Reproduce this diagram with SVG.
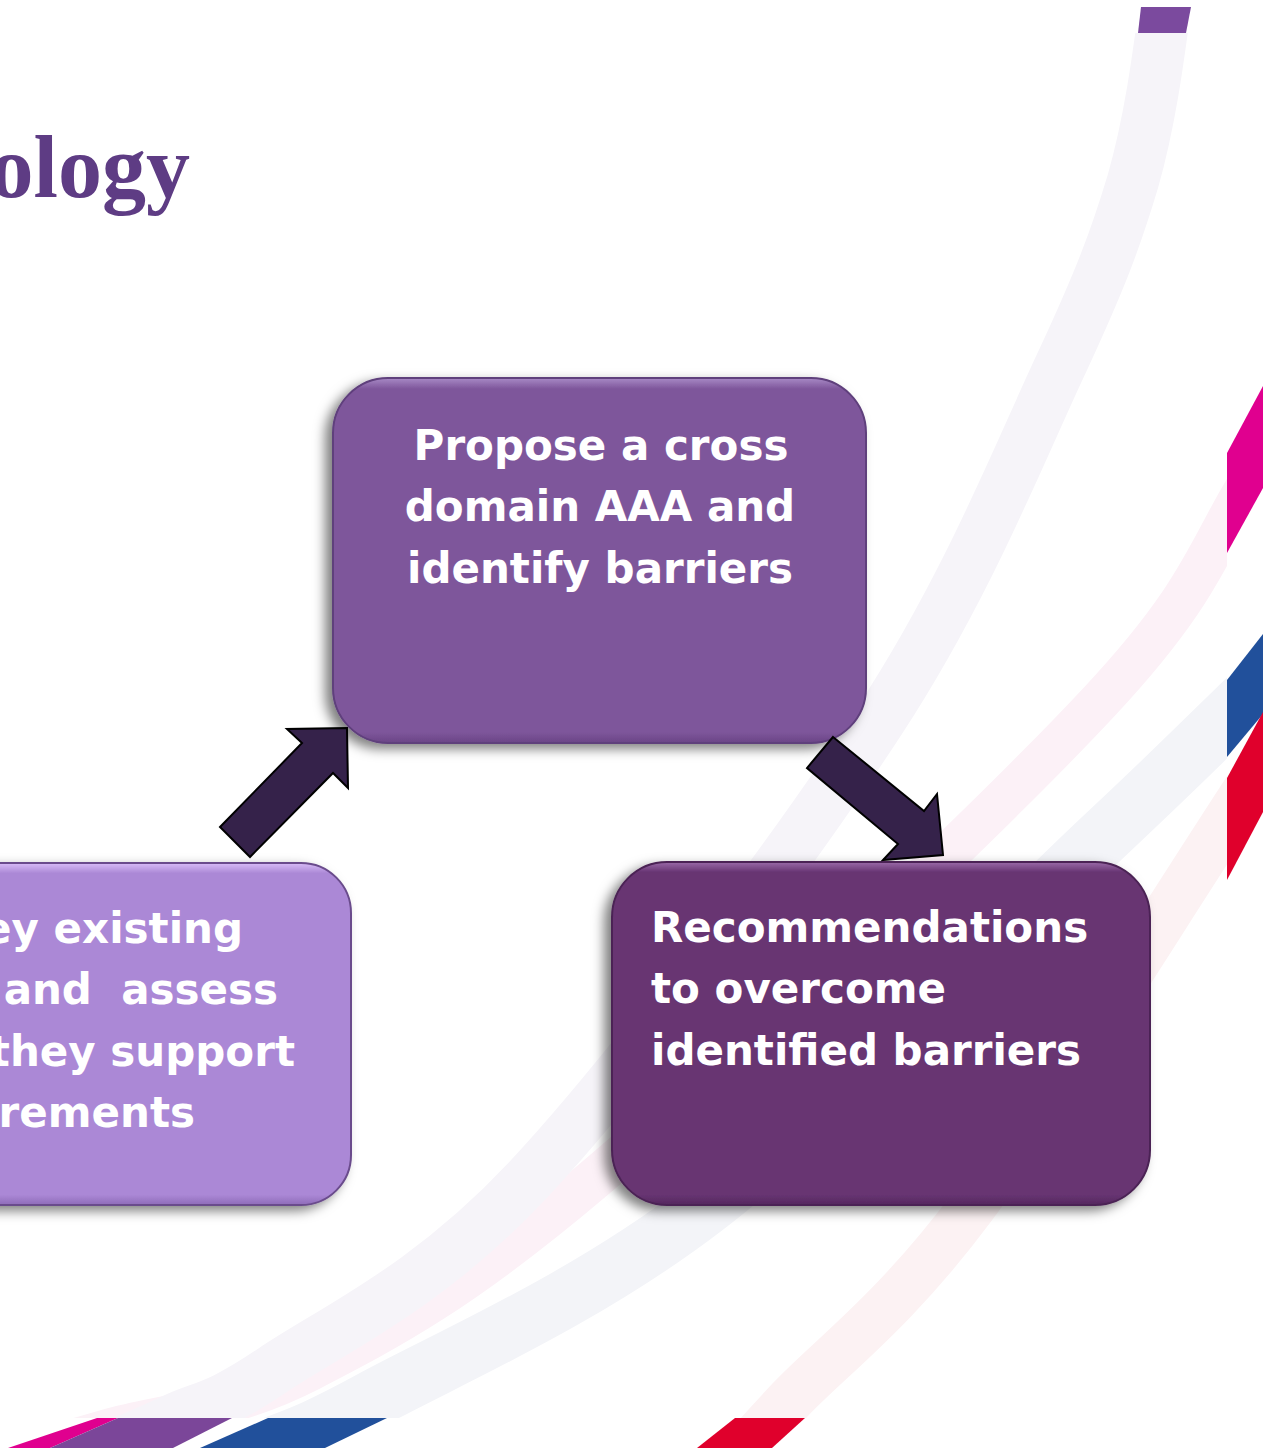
<svg xmlns="http://www.w3.org/2000/svg" width="1263" height="1448" viewBox="0 0 1263 1448">
  <defs>
    <style>
      .band { fill: none; stroke-linecap: butt; }
      .node-text { font-family: "DejaVu Sans", "Liberation Sans", sans-serif; font-weight: bold; font-size: 42px; fill: #ffffff; }
      .arrow { fill: #35224a; stroke: #000000; stroke-width: 2; stroke-linejoin: miter; }
    </style>
    <clipPath id="faintClip">
      <rect x="0" y="33" width="1227" height="1385"/>
    </clipPath>
    <filter id="shadow" x="-10%" y="-10%" width="120%" height="125%">
      <feDropShadow dx="-7" dy="5" stdDeviation="6" flood-color="#000000" flood-opacity="0.5"/>
    </filter>
    <linearGradient id="gTop" x1="0" y1="0" x2="0" y2="1">
      <stop offset="0" stop-color="#a88ac6"/>
      <stop offset="0.03" stop-color="#7e569b"/>
      <stop offset="0.97" stop-color="#7e569b"/>
      <stop offset="1" stop-color="#6a4586"/>
    </linearGradient>
    <linearGradient id="gLeft" x1="0" y1="0" x2="0" y2="1">
      <stop offset="0" stop-color="#d8bcf7"/>
      <stop offset="0.03" stop-color="#ab88d6"/>
      <stop offset="0.97" stop-color="#ab88d6"/>
      <stop offset="1" stop-color="#8e6bb8"/>
    </linearGradient>
    <linearGradient id="gRight" x1="0" y1="0" x2="0" y2="1">
      <stop offset="0" stop-color="#9a6aa8"/>
      <stop offset="0.03" stop-color="#673472"/>
      <stop offset="0.97" stop-color="#673472"/>
      <stop offset="1" stop-color="#55285f"/>
    </linearGradient>
  </defs>

  <rect x="0" y="0" width="1263" height="1448" fill="#ffffff"/>

  <!-- background swooshes -->
  <g id="background">
    <g clip-path="url(#faintClip)">
      <path class="band" stroke="#fcf1f7" stroke-width="42" d="M1263 461 C1208.7 541 1211.7 581.2 1100 701 C988.3 820.8 724.7 1068.5 593 1180 C461.3 1291.5 390.8 1328.3 310 1370 C229.2 1411.7 159.7 1415 108 1430 C56.3 1445 36 1450 0 1460"/>
      <path class="band" stroke="#f6f4f9" stroke-width="52" d="M1166 0 C1158 60 1150 121 1133 181 C1115 241 1100 280 1063 360 C1020.5 449.8 969.2 583.3 880 720 C790.8 856.7 629.2 1071.7 528 1180 C426.8 1288.3 331.8 1330.2 273 1370 C214.2 1409.8 202.2 1406 175 1419 C147.8 1432 131.7 1438.3 110 1448"/>
      <path class="band" stroke="#f3f4f8" stroke-width="58" d="M1263 683 C1208.7 735.3 1193 752.7 1100 840 C1007 927.3 826.5 1113.7 705 1207 C583.5 1300.3 446.8 1358.7 371 1400 C295.2 1441.3 290.3 1436.7 250 1455"/>
      <path class="band" stroke="#fcf2f3" stroke-width="48" d="M1263 765 C1166 912.3 1050.8 1101.2 972 1207 C893.2 1312.8 828.7 1358.7 790 1400 C751.3 1441.3 756.7 1436.7 740 1455"/>
    </g>
    <polygon points="1141,7 1191,7 1186,33 1138,33" fill="#7b4a9e"/>
    <polygon points="1227,453 1263,386 1263,488 1227,553" fill="#e0008f"/>
    <polygon points="1227,680 1263,634 1263,714 1227,757" fill="#21509b"/>
    <polygon points="1227,778 1263,712 1263,812 1227,880" fill="#e0002c"/>
    <polygon points="97,1418 118,1418 50,1448 8,1448" fill="#e0008f"/>
    <polygon points="118,1418 232,1418 173,1448 50,1448" fill="#7b4699"/>
    <polygon points="268,1418 387,1418 325,1448 200,1448" fill="#21509b"/>
    <polygon points="735,1418 805,1418 772,1448 697,1448" fill="#e0002c"/>
  </g>

  <text id="title" x="190" y="197" text-anchor="end" font-family="'Liberation Serif', 'DejaVu Serif', serif" font-weight="bold" font-size="88" fill="#5e3c84">ology</text>

  <g id="node-propose">
    <rect x="333" y="378" width="533" height="365" rx="55" ry="55" fill="url(#gTop)" stroke="#5f3f7c" stroke-width="2" filter="url(#shadow)"/>
    <text class="node-text" text-anchor="middle"><tspan x="601" y="460">Propose a cross</tspan><tspan x="600" y="521">domain AAA and</tspan><tspan x="600" y="583">identify barriers</tspan></text>
  </g>

  <g id="node-survey">
    <rect x="-200" y="863" width="551" height="342" rx="50" ry="50" fill="url(#gLeft)" stroke="#6a4c8c" stroke-width="2" filter="url(#shadow)"/>
    <text class="node-text" text-anchor="end" xml:space="preserve"><tspan x="243" y="943">ey existing</tspan><tspan x="278" y="1004">and  assess</tspan><tspan x="295" y="1066">they support</tspan><tspan x="195" y="1127">rements</tspan></text>
  </g>

  <g id="node-recommendations">
    <rect x="612" y="862" width="538" height="343" rx="55" ry="55" fill="url(#gRight)" stroke="#4b2454" stroke-width="2" filter="url(#shadow)"/>
    <text class="node-text"><tspan x="651" y="942">Recommendations</tspan><tspan x="651" y="1003">to overcome</tspan><tspan x="651" y="1065">identified barriers</tspan></text>
  </g>

  <g id="connectors">
    <polygon class="arrow" points="220,827 302,743 287,729 347,728 348,788 333,773 250,857"/>
    <polygon class="arrow" points="833,737 924,811 937,794 943,855 883,860 898,844 807,768"/>
  </g>
</svg>
